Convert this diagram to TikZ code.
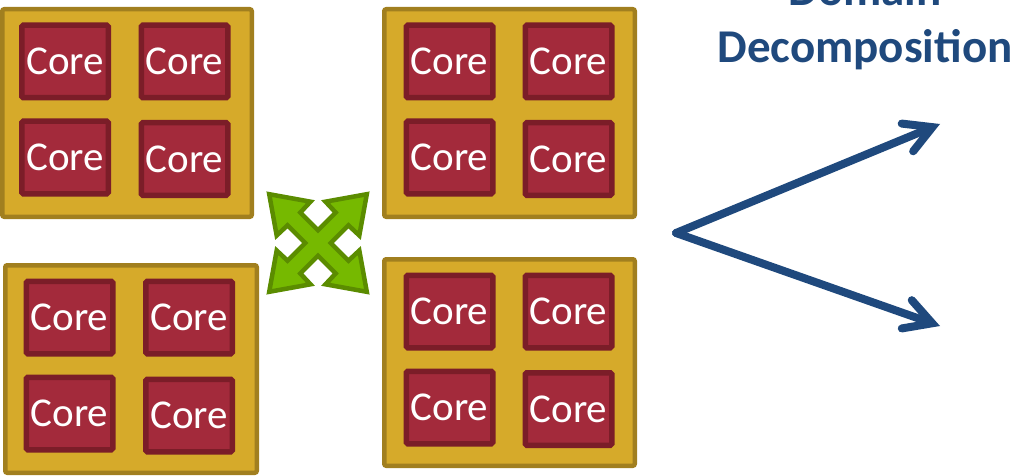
\documentclass[tikz,border=0pt]{standalone}
\usepackage{fontspec}
\setmainfont{Carlito}
\usetikzlibrary{arrows.meta}
\definecolor{chipfill}{HTML}{D6AA2A}
\definecolor{chipborder}{HTML}{A17F1F}
\definecolor{corefill}{HTML}{A32A3B}
\definecolor{coreborder}{HTML}{7B1D28}
\definecolor{xfill}{HTML}{76B900}
\definecolor{xborder}{HTML}{5B8C00}
\definecolor{ddblue}{HTML}{1F497D}
\tikzset{
  chip/.style={draw=chipborder, fill=chipfill, line width=4.5pt, rounded corners=2pt,
    minimum width=#1, minimum height=207.5pt, inner sep=0pt},
  chip/.default=250pt,
  core/.style={draw=coreborder, fill=corefill, line width=5.5pt, rounded corners=1.5pt,
    minimum width=86.5pt, minimum height=72.5pt, inner sep=0pt, text=white, text depth=0pt,
    font=\fontsize{41}{49}\selectfont},
  greenx/.style={draw=xborder, fill=xfill, line width=4.5pt, line join=miter},
  ddarrow/.style={draw=ddblue, line width=8pt, line cap=round,
    -{Straight Barb[length=27pt, width=30pt, line cap=round, line join=miter]}},
  title/.style={text=ddblue, font=\fontsize{47}{57}\selectfont\bfseries, anchor=base, inner sep=0pt}
}
\begin{document}
\begin{tikzpicture}[x=1pt, y=-1pt]
\useasboundingbox (0,0) rectangle (1019,476);
\clip (0,0) rectangle (1019,476);
% chips
\node[chip=249.5pt] (chipA) at (127,113) {};
\node[chip=250.5pt] (chipB) at (509.5,113) {};
\node[chip=251.5pt] (chipC) at (131,369) {};
\node[chip=250.5pt, minimum height=206.5pt] (chipD) at (509.5,362.5) {};
% cores of chip A
\node[core] (a1) at (65,61.5) {Core};
\node[core] (a2) at (184.5,61.5) {Core};
\node[core] (a3) at (65,157.5) {Core};
\node[core] (a4) at (184.5,159) {Core};
% cores of chip B
\node[core] (b1) at (449.5,61.5) {Core};
\node[core] (b2) at (568.5,61.5) {Core};
\node[core] (b3) at (449.5,157.5) {Core};
\node[core] (b4) at (568.5,159) {Core};
% cores of chip C
\node[core] (c1) at (69.5,317.5) {Core};
\node[core] (c2) at (189,317.5) {Core};
\node[core] (c3) at (69.5,413.5) {Core};
\node[core] (c4) at (189,415.5) {Core};
% cores of chip D
\node[core] (d1) at (449.5,311.5) {Core};
\node[core] (d2) at (568.5,311.5) {Core};
\node[core] (d3) at (449.5,407.5) {Core};
\node[core] (d4) at (568.5,409) {Core};
% green four-way arrow
\begin{scope}[shift={(318,243)}]
\draw[greenx] (0:12.73)
  \foreach \a in {45,135,225,315}{
    -- ({\a-14.8}:35.2) -- ({\a-34.7}:42) -- (\a:69) -- ({\a+34.7}:42)
    -- ({\a+14.8}:35.2) -- ({\a+45}:12.73)
  } -- cycle;
\end{scope}
% decomposition arrows
\coordinate (v) at (676,233);
\coordinate (t1) at (940,124);
\coordinate (t2) at (940,326);
\draw[ddarrow] (v) -- (t1);
\draw[ddarrow] (v) -- (t2);
% title
\node[title] (dom) at (865,6) {Domain};
\node[title] (dec) at (865,63) {Decomposition};
\end{tikzpicture}
\end{document}
